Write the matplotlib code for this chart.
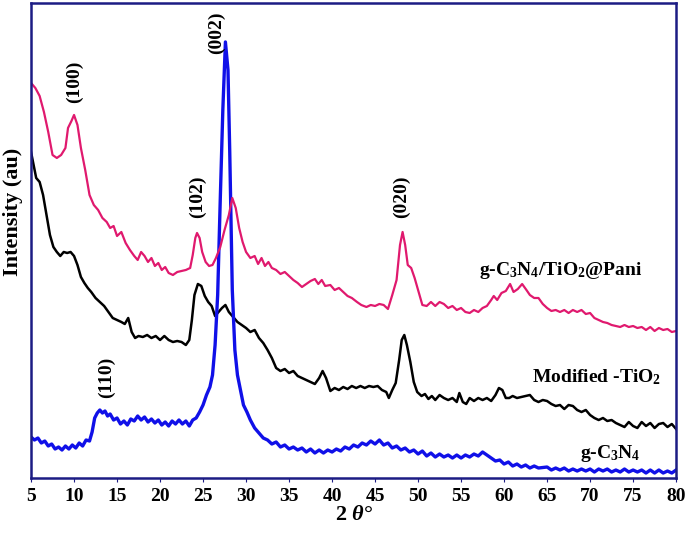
import numpy as np
import matplotlib.pyplot as plt

# ==============================
# DATA (2 theta in degrees, intensity in arbitrary units)
# ==============================
pani_x = [5.0, 5.5, 6.0, 6.5, 7.0, 7.5, 8.0, 8.5, 9.0, 9.3, 9.7, 10.0, 10.4, 10.8, 11.3, 11.8,
          12.3, 12.8, 13.3, 13.8, 14.2, 14.6, 15.0, 15.5, 16.0, 16.5, 17.0, 17.4, 17.8, 18.2,
          18.6, 19.0, 19.4, 19.8, 20.2, 20.6, 21.0, 21.5, 22.0, 22.5, 23.0, 23.5, 23.8, 24.1,
          24.3, 24.6, 24.9, 25.3, 25.7, 26.1, 26.5, 27.0, 27.5, 28.0, 28.4, 28.8, 29.2, 29.6,
          30.0, 30.5, 31.0, 31.4, 31.8, 32.2, 32.6, 33.0, 33.5, 34.0, 34.5, 35.0, 35.5, 36.0,
          36.5, 37.0, 37.5, 38.0, 38.4, 38.8, 39.2, 39.8, 40.3, 40.8, 41.3, 41.8, 42.3, 42.9,
          43.4, 44.0, 44.5, 45.0, 45.5, 46.0, 46.5, 47.0, 47.5, 47.9, 48.2, 48.5, 48.8, 49.2,
          49.6, 50.0, 50.5, 51.0, 51.5, 52.0, 52.5, 53.0, 53.5, 54.0, 54.5, 55.0, 55.5, 56.0,
          56.5, 57.0, 57.5, 58.0, 58.5, 58.8, 59.2, 59.7, 60.2, 60.7, 61.1, 61.6, 62.1, 62.6,
          63.0, 63.5, 64.0, 64.5, 65.0, 65.5, 66.0, 66.5, 67.0, 67.5, 68.0, 68.5, 69.0, 69.5,
          70.0, 70.5, 71.0, 71.5, 72.0, 72.5, 73.0, 73.5, 74.0, 74.5, 75.0, 75.5, 76.0, 76.5,
          77.0, 77.5, 78.0, 78.5, 79.0, 79.5, 80.0]
pani_y = [395, 390, 382, 366, 346, 323, 320, 323, 330, 350, 357, 363, 353, 330, 308, 283,
          273, 268, 260, 256, 250, 252, 242, 246, 235, 228, 222, 218, 226, 222,
          216, 220, 212, 215, 208, 211, 205, 203, 206, 207, 208, 210, 223, 240,
          245, 240, 226, 216, 212, 213, 220, 231, 248, 263, 280, 270, 250, 236,
          226, 220, 222, 214, 220, 212, 216, 210, 208, 204, 206, 202, 198, 195,
          191, 194, 197, 199, 194, 198, 192, 193, 188, 190, 186, 182, 180, 176,
          173, 171, 173, 172, 174, 173, 169, 183, 198, 233, 246, 233, 213, 210,
          200, 188, 173, 172, 176, 172, 176, 174, 170, 172, 168, 170, 166, 165,
          168, 166, 170, 172, 178, 182, 178, 185, 187, 194, 186, 189, 194, 188,
          183, 180, 180, 174, 170, 167, 168, 166, 168, 165, 168, 166, 168, 164,
          165, 160, 158, 156, 155, 153, 152, 151, 153, 151, 152, 150, 151, 148,
          151, 147, 150, 148, 149, 146, 147]

tio2_x = [5.0, 5.3, 5.6, 6.0, 6.4, 6.8, 7.2, 7.6, 8.0, 8.4, 8.8, 9.2, 9.6, 10.0, 10.4, 10.8,
          11.2, 11.6, 12.0, 12.5, 13.0, 13.5, 14.0, 14.5, 15.0, 15.5, 15.9, 16.3, 16.7, 17.1,
          17.5, 18.0, 18.5, 19.0, 19.5, 20.0, 20.5, 21.0, 21.5, 22.0, 22.5, 23.0, 23.4, 23.7,
          24.0, 24.4, 24.8, 25.2, 25.6, 26.0, 26.4, 26.8, 27.2, 27.6, 28.0, 28.5, 29.0, 29.5,
          30.0, 30.5, 31.0, 31.5, 32.0, 32.5, 33.0, 33.5, 34.0, 34.5, 35.0, 35.5, 36.0, 36.5,
          37.0, 37.5, 38.0, 38.5, 38.9, 39.3, 39.8, 40.3, 40.8, 41.3, 41.8, 42.3, 42.8, 43.3,
          43.8, 44.3, 44.8, 45.3, 45.8, 46.3, 46.6, 47.0, 47.4, 47.8, 48.1, 48.4, 48.7, 49.1,
          49.5, 49.9, 50.4, 50.8, 51.2, 51.6, 52.0, 52.5, 53.0, 53.5, 54.0, 54.5, 54.8, 55.2,
          55.6, 56.0, 56.5, 57.0, 57.5, 58.0, 58.5, 59.0, 59.4, 59.8, 60.2, 60.6, 61.0, 61.5,
          62.0, 62.5, 63.0, 63.5, 64.0, 64.5, 65.0, 65.5, 66.0, 66.5, 67.0, 67.5, 68.0, 68.5,
          69.0, 69.5, 70.0, 70.5, 71.0, 71.5, 72.0, 72.5, 73.0, 73.5, 74.0, 74.5, 75.0, 75.5,
          76.0, 76.5, 77.0, 77.5, 78.0, 78.5, 79.0, 79.5, 80.0]
tio2_y = [326, 313, 300, 296, 283, 263, 243, 231, 226, 222, 226, 225, 226, 222, 213, 201,
          195, 190, 186, 180, 176, 172, 166, 160, 158, 156, 154, 160, 146, 140,
          142, 141, 143, 140, 142, 138, 142, 138, 136, 137, 136, 133, 138, 158,
          183, 194, 192, 182, 176, 172, 162, 166, 170, 173, 166, 161, 156, 153,
          150, 146, 148, 140, 135, 128, 120, 110, 107, 109, 105, 107, 102, 100,
          98, 96, 94, 100, 107, 100, 87, 90, 88, 91, 89, 92, 90, 92,
          90, 92, 91, 92, 88, 86, 80, 88, 95, 118, 138, 143, 133, 116,
          96, 86, 82, 84, 79, 82, 78, 83, 80, 78, 80, 76, 85, 76,
          74, 80, 77, 80, 78, 80, 77, 83, 90, 88, 80, 80, 82, 80,
          81, 82, 83, 78, 76, 78, 77, 74, 72, 73, 69, 73, 72, 68,
          66, 68, 63, 60, 58, 60, 57, 58, 55, 53, 51, 56, 52, 50,
          56, 52, 55, 50, 54, 55, 51, 54, 49]

gcn_x = [5.0, 5.4, 5.8, 6.2, 6.6, 7.0, 7.4, 7.8, 8.2, 8.6, 9.0, 9.4, 9.8, 10.2, 10.6, 11.0,
         11.4, 11.8, 12.1, 12.4, 12.7, 13.0, 13.3, 13.6, 13.9, 14.2, 14.6, 15.0, 15.4, 15.8,
         16.2, 16.6, 17.0, 17.4, 17.8, 18.2, 18.6, 19.0, 19.4, 19.8, 20.2, 20.6, 21.0, 21.4,
         21.8, 22.2, 22.6, 23.0, 23.4, 23.8, 24.2, 24.6, 25.0, 25.4, 25.8, 26.1, 26.4, 26.7,
         27.0, 27.3, 27.6, 27.9, 28.1, 28.4, 28.7, 29.0, 29.3, 29.7, 30.1, 30.5, 31.0, 31.5,
         32.0, 32.5, 33.0, 33.5, 34.0, 34.5, 35.0, 35.5, 36.0, 36.5, 37.0, 37.5, 38.0, 38.5,
         39.0, 39.5, 40.0, 40.5, 41.0, 41.5, 42.0, 42.5, 43.0, 43.5, 44.0, 44.5, 45.0, 45.5,
         46.0, 46.5, 47.0, 47.5, 48.0, 48.5, 49.0, 49.5, 50.0, 50.5, 51.0, 51.5, 52.0, 52.5,
         53.0, 53.5, 54.0, 54.5, 55.0, 55.5, 56.0, 56.5, 57.0, 57.5, 58.0, 58.5, 59.0, 59.5,
         60.0, 60.5, 61.0, 61.5, 62.0, 62.5, 63.0, 63.5, 64.0, 65.0, 65.5, 66.0, 66.5, 67.0,
         67.5, 68.0, 68.5, 69.0, 69.5, 70.0, 70.5, 71.0, 71.5, 72.0, 72.5, 73.0, 73.5, 74.0,
         74.5, 75.0, 75.5, 76.0, 76.5, 77.0, 77.5, 78.0, 78.5, 79.0, 79.5, 80.0]
gcn_y = [41, 38, 40, 35, 37, 32, 34, 29, 31, 28, 32, 29, 33, 30, 35, 32,
         38, 37, 46, 60, 65, 68, 65, 67, 62, 64, 58, 60, 54, 57,
         53, 59, 57, 62, 58, 61, 56, 59, 55, 58, 53, 56, 52, 57,
         54, 58, 54, 57, 52, 58, 60, 66, 73, 83, 91, 103, 133, 183,
         278, 368, 436, 408, 328, 188, 128, 103, 90, 73, 66, 58, 50, 45,
         40, 38, 34, 36, 31, 33, 29, 31, 28, 30, 26, 29, 25, 28,
         25, 28, 26, 29, 27, 31, 29, 33, 31, 35, 33, 37, 34, 38,
         33, 35, 30, 32, 28, 30, 26, 28, 24, 27, 22, 25, 21, 24,
         21, 23, 20, 23, 20, 23, 21, 24, 22, 26, 23, 20, 17, 18,
         14, 16, 12, 14, 11, 13, 10, 12, 10, 11, 8, 10, 8, 10,
         7, 9, 7, 9, 7, 9, 6, 9, 7, 9, 6, 8, 6, 9,
         6, 8, 6, 8, 5, 8, 5, 8, 5, 7, 5, 8]

peak_labels = ["(100)", "(002)", "(102)", "(020)", "(110)"]
peak_x = [10.1, 26.6, 24.3, 48.1, 13.8]
peak_y = [396, 445, 281, 281, 101]

series_labels = [r"g-C$_3$N$_4$/TiO$_2$@Pani", r"Modified -TiO$_2$", r"g-C$_3$N$_4$"]
series_label_x = [66.6, 70.8, 72.4]
series_label_y = [207, 101, 25]

# ==============================
# STYLE
# ==============================
plt.rcParams['font.family'] = ['Liberation Serif', 'DejaVu Serif']
plt.rcParams['font.weight'] = 'bold'
plt.rcParams['mathtext.fontset'] = 'custom'
plt.rcParams['mathtext.rm'] = 'Liberation Serif:bold'
plt.rcParams['mathtext.it'] = 'Liberation Serif:italic'
plt.rcParams['mathtext.bf'] = 'Liberation Serif:bold'

frame = '#1c1c84'

fig = plt.figure(figsize=(6.85, 5.38), dpi=100)
ax = fig.add_axes([0.0453, 0.1115, 0.9417, 0.883])

ax.plot(tio2_x, tio2_y, color='black', lw=1.8)
ax.plot(gcn_x, gcn_y, color='#1010e8', lw=2.4)
ax.plot(pani_x, pani_y, color='#e0196e', lw=1.6)

for lab, x, y in zip(peak_labels, peak_x, peak_y):
    ax.text(x, y, lab, rotation=90, ha='center', va='center', fontsize=14, fontweight='bold')

for lab, x, y in zip(series_labels, series_label_x, series_label_y):
    ax.text(x, y, lab, ha='center', va='center', fontsize=14, fontweight='bold')

ax.set_xlim(5, 80)
ax.set_ylim(0, 475)
ax.set_xticks(np.arange(5, 81, 5))
ax.set_yticks([])
ax.tick_params(axis='x', direction='out', length=3, color=frame, labelsize=14, pad=4)
for lbl in ax.get_xticklabels():
    lbl.set_fontweight('bold')
for sp in ax.spines.values():
    sp.set_color(frame)
    sp.set_linewidth(1.8)

ax.set_xlabel(r"2 $\theta$°", fontsize=16, fontweight='bold', labelpad=0)
ax.set_ylabel("Intensity (au)", fontsize=16, fontweight='bold')
ax.yaxis.set_label_coords(-0.013, 0.56)

plt.savefig("out.png", dpi=100)
